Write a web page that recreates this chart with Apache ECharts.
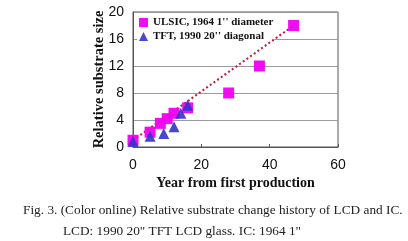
<!DOCTYPE html>
<html>
<head>
<meta charset="utf-8">
<script src="https://cdn.jsdelivr.net/npm/echarts@6/dist/echarts.min.js"></script>
<style>html,body{margin:0;padding:0;background:#fff;}#c{width:408px;height:241px;}</style>
</head>
<body>
<div id="c"></div>
<script>
var ulsicX = [0, 5, 8, 10, 12, 16, 28, 37, 47];
var ulsicY = [1, 2.2, 3.5, 4.2, 5, 5.8, 8, 12, 18];
var tftX = [0, 5, 9, 12, 14, 16];
var tftY = [0.8, 1.6, 2, 3, 5, 6.2];
var trendX = [0, 47];
var trendY = [1, 18];
var xTicks = [0, 20, 40, 60];
var yTicks = [0, 4, 8, 12, 16, 20];
var seriesNames = ["ULSIC, 1964 1'' diameter", "TFT, 1990 20'' diagonal"];
var xName = "Year from first production";
var yName = "Relative substrate size";
var caption1 = "Fig. 3. (Color online) Relative substrate change history of LCD and IC.";
var caption2 = "LCD: 1990 20\" TFT LCD glass. IC: 1964 1\"";

function pairs(xs, ys) { return xs.map(function (x, i) { return [x, ys[i]]; }); }

var chart = echarts.init(document.getElementById('c'), null, {renderer: 'canvas'});
chart.setOption({
  animation: false,
  backgroundColor: '#fff',
  title: [
    {text: caption1, left: 23, top: 204, textStyle: {fontFamily: 'Liberation Serif', fontSize: 13.3, fontWeight: 'normal', color: '#222'}, padding: 0},
    {text: caption2, left: 63, top: 225, textStyle: {fontFamily: 'Liberation Serif', fontSize: 13.3, fontWeight: 'normal', color: '#222'}, padding: 0}
  ],
  grid: {left: 133, right: 70, top: 12, bottom: 94, show: true, borderColor: '#555', borderWidth: 1, backgroundColor: 'transparent'},
  legend: {
    orient: 'vertical', left: 137, top: 15, itemGap: 3, itemWidth: 9, itemHeight: 9, z: 1,
    backgroundColor: '#fff', padding: [2, 1, 2, 2],
    textStyle: {fontFamily: 'Liberation Serif', fontWeight: 'bold', fontSize: 11, color: '#111'},
    data: [{name: seriesNames[0], icon: 'rect'}, {name: seriesNames[1], icon: 'triangle'}]
  },
  xAxis: {
    type: 'value', min: xTicks[0], max: xTicks[xTicks.length - 1], interval: 20,
    name: xName, nameLocation: 'middle', nameGap: 29, nameMoveOverlap: false,
    nameTextStyle: {fontFamily: 'Liberation Serif', fontWeight: 'bold', fontSize: 14, color: '#111'},
    axisLine: {show: true, lineStyle: {color: '#555'}},
    axisTick: {show: true, inside: true, length: 3, lineStyle: {color: '#555'}},
    axisLabel: {fontFamily: 'Liberation Sans', fontSize: 14, color: '#111', margin: 11},
    splitLine: {show: false}
  },
  yAxis: {
    type: 'value', min: yTicks[0], max: yTicks[yTicks.length - 1], interval: 4,
    name: yName, nameLocation: 'middle', nameGap: 26, nameMoveOverlap: false,
    nameTextStyle: {fontFamily: 'Liberation Serif', fontWeight: 'bold', fontSize: 14.5, color: '#111'},
    axisLine: {show: true, lineStyle: {color: '#555'}},
    axisTick: {show: false},
    axisLabel: {fontFamily: 'Liberation Sans', fontSize: 14, color: '#111', margin: 9},
    splitLine: {show: true, lineStyle: {color: '#9a9a9a', width: 1}}
  },
  series: [
    {
      name: 'trend', type: 'line', data: pairs(trendX, trendY), symbol: 'none', z: 3,
      lineStyle: {color: '#c4153a', width: 2, type: [2, 2.5]}
    },
    {
      name: seriesNames[0], type: 'scatter', symbol: 'rect', symbolSize: 11, z: 4,
      itemStyle: {color: '#f000f0', opacity: 0.95},
      data: pairs(ulsicX, ulsicY)
    },
    {
      name: seriesNames[1], type: 'scatter', symbol: 'triangle', symbolSize: 11, z: 5,
      itemStyle: {color: '#3333cc', opacity: 0.9},
      data: pairs(tftX, tftY)
    }
  ]
});
</script>
</body>
</html>
